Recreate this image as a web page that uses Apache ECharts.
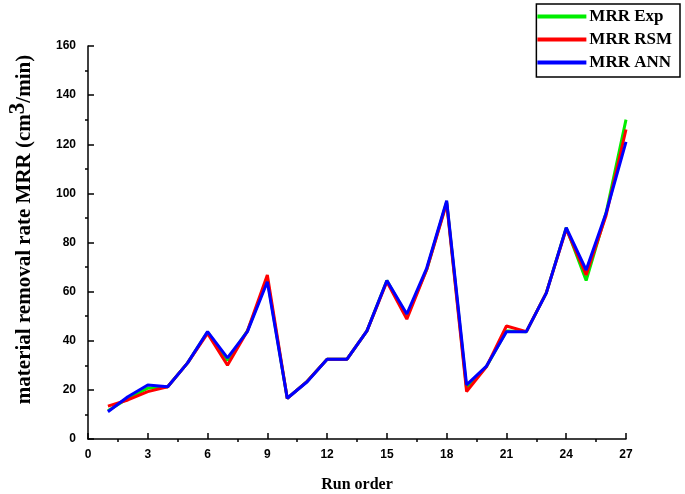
<!DOCTYPE html>
<html><head><meta charset="utf-8">
<script src="https://cdn.jsdelivr.net/npm/echarts@6/dist/echarts.min.js"></script>
<style>html,body{margin:0;padding:0;background:#fff}#c{width:685px;height:494px}</style>
</head><body><div id="c"></div>
<script>
const runOrder = [1,2,3,4,5,6,7,8,9,10,11,12,13,14,15,16,17,18,19,20,21,22,23,24,25,26,27];
const mrrExp = [11.5,16.5,20.7,21.3,31,43.5,32,44,65,16.5,23.5,32.5,32.5,44,64.5,50,69,96.5,20.5,29.5,44,43.7,59.5,86,64.5,92,130];
const mrrRSM = [13.4,15.9,19.3,21.3,31,43,30,44,66.8,16.5,23.5,32.5,32.5,44,64,48.8,69,96,19.3,29.5,46,43.7,59.5,85.5,66.8,91,126];
const mrrANN = [11.1,17.2,22,21.3,31,43.7,33,43.7,64,16.6,23.3,32.5,32.5,44,64.5,50.9,69.6,97,22,29.7,43.7,43.7,59.4,86,68.8,92,121];
const seriesNames = ['MRR Exp','MRR RSM','MRR ANN'];
const colors = ['#00ee00','#ff0000','#0000ff'];

const chart = echarts.init(document.getElementById('c'));
const font = '"Liberation Serif","DejaVu Serif",serif';
const tickFont = '"Liberation Sans Narrow","Liberation Sans",Arial,sans-serif';
function mk(name, vals, color){
  return {name:name,type:'line',data:runOrder.map((x,i)=>[x,vals[i]]),symbol:'none',
    lineStyle:{color:color,width:3},itemStyle:{color:color},animation:false};
}
chart.setOption({
  animation:false,
  grid:{left:88,right:59,top:46,bottom:55,outerBoundsMode:'none',containLabel:false},
  legend:{orient:'vertical',right:5,top:4,data:seriesNames,icon:'rect',itemWidth:49,itemHeight:4,itemGap:6,itemStyle:{borderWidth:0},
    borderColor:'#000',borderWidth:1.5,padding:[4,8,6,1],
    textStyle:{fontFamily:font,fontWeight:'bold',fontSize:17,color:'#000',padding:[0,0,0,-2]}},
  xAxis:{type:'value',min:0,max:27,interval:3,name:'Run order',nameLocation:'middle',nameGap:38,
    nameTextStyle:{fontFamily:font,fontWeight:'bold',fontSize:16,color:'#000'},
    axisLine:{lineStyle:{color:'#000',width:1.5}},
    axisTick:{inside:true,length:6,lineStyle:{color:'#000',width:1.5}},
    minorTick:{show:true,splitNumber:2,length:-3,lineStyle:{color:'#000',width:1.5}},
    splitLine:{show:false},
    axisLabel:{fontFamily:tickFont,fontWeight:'bold',fontSize:12,color:'#000',margin:10}},
  yAxis:{type:'value',min:0,max:160,interval:20,name:'{a|material removal rate MRR (cm}{s|3}{a|/min)}',nameLocation:'middle',nameGap:46,
    nameTextStyle:{padding:[0,0,0,26],rich:{a:{fontFamily:font,fontWeight:'bold',fontSize:21,color:'#000'},s:{fontFamily:font,fontWeight:'bold',fontSize:23,color:'#000',verticalAlign:'top',padding:[0,0,12,0]}}},
    axisLine:{show:true,lineStyle:{color:'#000',width:1.5}},
    axisTick:{show:true,inside:true,length:6,lineStyle:{color:'#000',width:1.5}},
    minorTick:{show:true,splitNumber:2,length:-3,lineStyle:{color:'#000',width:1.5}},
    splitLine:{show:false},
    axisLabel:{fontFamily:tickFont,fontWeight:'bold',fontSize:12,color:'#000',margin:12}},
  series:[mk(seriesNames[0],mrrExp,colors[0]),mk(seriesNames[1],mrrRSM,colors[1]),mk(seriesNames[2],mrrANN,colors[2])]
});
</script></body></html>
